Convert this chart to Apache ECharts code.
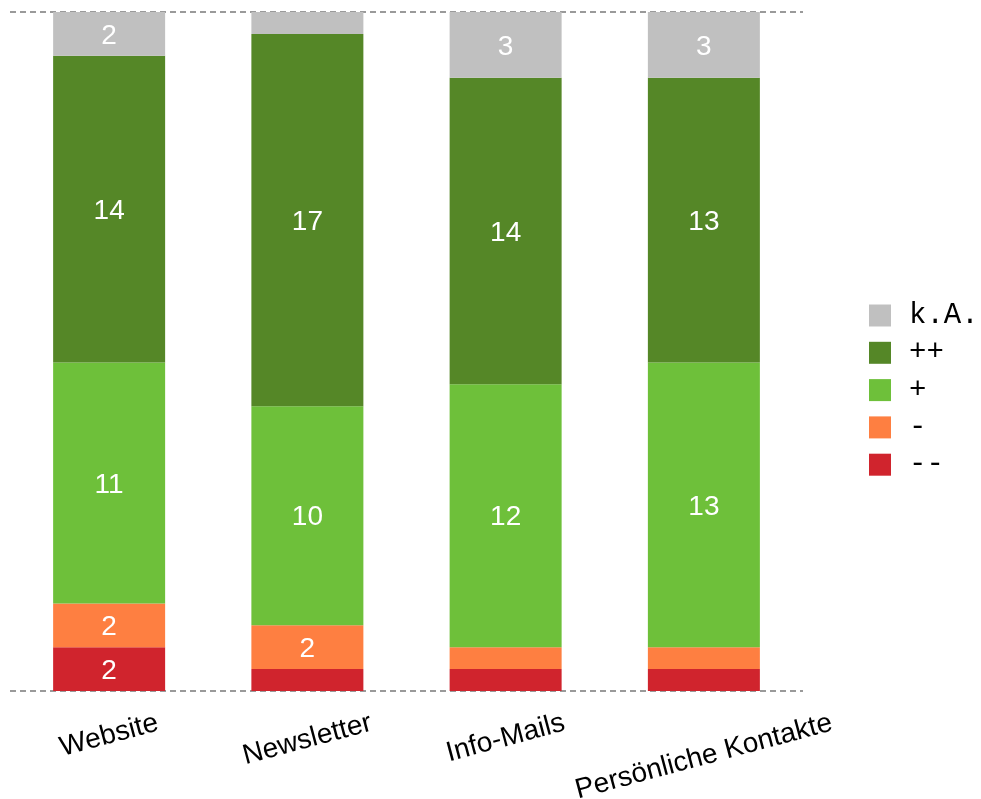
<!DOCTYPE html>
<html><head><meta charset="utf-8">
<script src="https://cdn.jsdelivr.net/npm/echarts@6/dist/echarts.min.js"></script>
<style>html,body{margin:0;padding:0;background:#fff}#c{width:981px;height:799px}</style>
</head><body><div id="c"></div>
<script>
const categories = ['Website', 'Newsletter', 'Info-Mails', 'Persönliche Kontakte'];
const seriesNames = ['--', '-', '+', '++', 'k.A.'];
const valMinusMinus = [2, 1, 1, 1];
const valMinus = [2, 2, 1, 1];
const valPlus = [11, 10, 12, 13];
const valPlusPlus = [14, 17, 14, 13];
const valKA = [2, 1, 3, 3];
const legendOrder = ['k.A.', '++', '+', '-', '--'];
const yMax = 31;

const colors = {'--': '#d0242d', '-': '#fe7f41', '+': '#6ec03a', '++': '#558727', 'k.A.': '#c0c0c0'};
const values = {'--': valMinusMinus, '-': valMinus, '+': valPlus, '++': valPlusPlus, 'k.A.': valKA};

// x label placement: rotated 15deg, bounding box centred on tick, bbox top aligned
const LFONT = 28, ANG = 15 * Math.PI / 180, MARGIN = 10, GAPTOP = 18;
const ctx = document.createElement('canvas').getContext('2d');
ctx.font = LFONT + 'px "Liberation Sans", Arial, sans-serif';
const rich = {};
categories.forEach((c, i) => {
  const w = ctx.measureText(c).width;
  const H = w * Math.sin(ANG) + LFONT * Math.cos(ANG);
  const D = GAPTOP - MARGIN + H / 2;
  rich['l' + i] = {
    fontSize: LFONT, fontFamily: '"Liberation Sans", Arial, sans-serif', color: '#000',
    padding: [2 * D * Math.cos(ANG), 2 * D * Math.sin(ANG), 0, 0]
  };
});

const chart = echarts.init(document.getElementById('c'));
chart.setOption({
  animation: false,
  grid: {left: 10, right: 178, top: 12, bottom: 108, containLabel: false, outerBoundsMode: 'none'},
  legend: {
    orient: 'vertical', left: 869, top: 301, padding: 0, data: legendOrder,
    itemWidth: 22, itemHeight: 22, itemGap: 8.3, icon: 'rect',
    textStyle: {fontFamily: '"Liberation Mono", "Courier New", monospace', fontSize: 29, color: '#000', padding: [0, 0, 0, 13]}
  },
  xAxis: {
    type: 'category', data: categories,
    axisLine: {show: false}, axisTick: {show: false},
    axisLabel: {
      interval: 0, rotate: 15, align: 'center', verticalAlign: 'middle', margin: MARGIN,
      formatter: (v, i) => '{l' + i + '|' + v + '}', rich: rich
    }
  },
  yAxis: {
    type: 'value', min: 0, max: yMax, interval: yMax,
    axisLabel: {show: false}, axisLine: {show: false}, axisTick: {show: false},
    splitLine: {show: true, lineStyle: {type: [6, 4], color: '#9a9a9a', width: 2}}
  },
  series: seriesNames.map(n => ({
    name: n, type: 'bar', stack: 'all', barWidth: 112,
    itemStyle: {color: colors[n]},
    label: {
      show: true, position: 'inside', color: '#fff', fontSize: 28, offset: [0, 2],
      fontFamily: '"Liberation Sans", Arial, sans-serif',
      formatter: p => (p.value >= 2 ? String(p.value) : '')
    },
    data: values[n]
  }))
});
</script></body></html>
